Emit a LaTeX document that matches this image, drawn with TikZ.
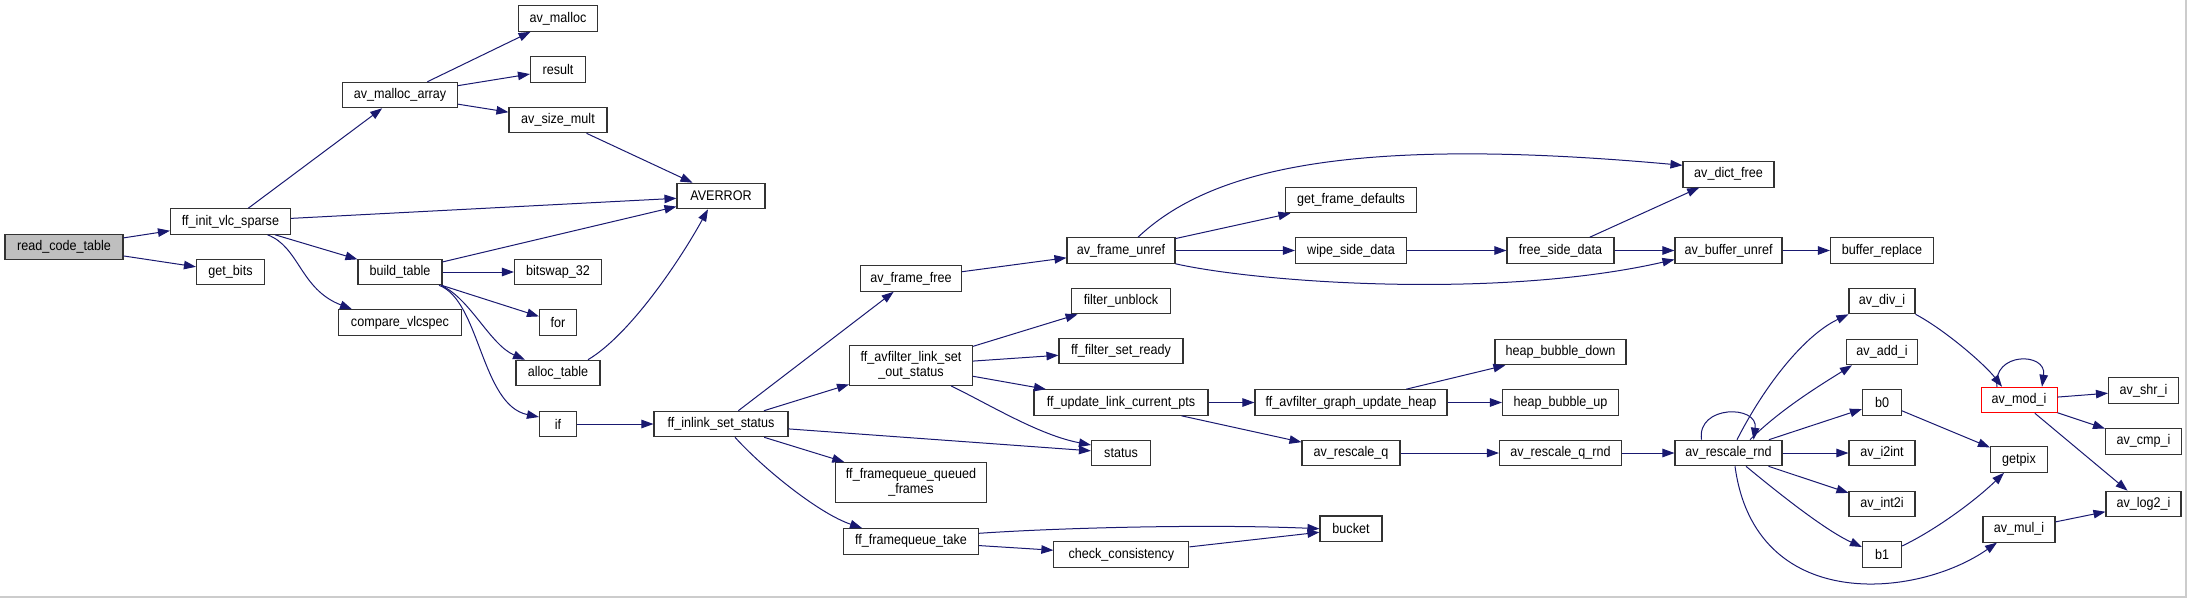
\documentclass[tikz,border=0pt]{standalone}
\usepackage{fontspec}
\setmainfont{Liberation Sans}[FakeStretch=0.9]
\usepackage{tikz}
\usetikzlibrary{arrows.meta}
\usepackage{xcolor}
\definecolor{EdgeBlue}{RGB}{25,25,112}
\definecolor{RootGray}{RGB}{191,191,191}

\begin{document}
\begin{tikzpicture}[x=1pt,y=-1pt,
  box/.style={draw=black!80,line width=1.1pt,fill=white,minimum height=25.5pt,
              inner sep=0pt,align=center,font=\fontsize{14}{15}\selectfont},
  root/.style={box,fill=RootGray},
  hot/.style={box,draw=red,line width=1pt},
  arr/.style={-{Triangle[length=12pt,width=8.5pt]},line width=1pt,EdgeBlue}
]
\useasboundingbox (0,0) rectangle (2187,598);
\draw[black!20,line width=1.5pt] (0,597.2) -- (2186.2,597.2) -- (2186.2,0);
\node[root,minimum width=118pt] (readcode) at (64,247) {read\_code\_table};
\node[box,minimum width=120pt] (initvlc) at (230.5,221.5) {ff\_init\_vlc\_sparse};
\node[box,minimum width=68pt] (getbits) at (230.5,272) {get\_bits};
\node[box,minimum width=115pt] (mallocarr) at (400,95) {av\_malloc\_array};
\node[box,minimum width=84pt] (buildtab) at (400,272) {build\_table};
\node[box,minimum width=123pt] (cmpvlc) at (400,322.5) {compare\_vlcspec};
\node[box,minimum width=79pt] (malloc) at (558,18.5) {av\_malloc};
\node[box,minimum width=55pt] (result) at (558,69.5) {result};
\node[box,minimum width=98pt] (sizemult) at (558,120) {av\_size\_mult};
\node[box,minimum width=87pt] (bitswap) at (558,272) {bitswap\_32};
\node[box,minimum width=37pt] (for) at (558,322.5) {for};
\node[box,minimum width=84pt] (alloctab) at (558,373) {alloc\_table};
\node[box,minimum width=37pt] (if) at (558,424) {if};
\node[box,minimum width=88pt] (averror) at (721,196) {AVERROR};
\node[box,minimum width=134pt] (inlink) at (721,424) {ff\_inlink\_set\_status};
\node[box,minimum width=101pt] (framefree) at (911,278.5) {av\_frame\_free};
\node[box,minimum width=123pt,minimum height=40pt] (setout) at (911,365.3) {ff\_avfilter\_link\_set\\\_out\_status};
\node[box,minimum width=151pt,minimum height=40pt] (queued) at (911,482.5) {ff\_framequeue\_queued\\\_frames};
\node[box,minimum width=135pt] (take) at (911,541.3) {ff\_framequeue\_take};
\node[box,minimum width=108pt] (unref) at (1121,250.5) {av\_frame\_unref};
\node[box,minimum width=99pt] (unblock) at (1121,301) {filter\_unblock};
\node[box,minimum width=124pt] (setready) at (1121,351) {ff\_filter\_set\_ready};
\node[box,minimum width=174pt] (updpts) at (1121,402.5) {ff\_update\_link\_current\_pts};
\node[box,minimum width=59pt] (status) at (1121,453) {status};
\node[box,minimum width=135pt] (checkcons) at (1121.4,554.5) {check\_consistency};
\node[box,minimum width=131pt] (getdef) at (1351,200) {get\_frame\_defaults};
\node[box,minimum width=111pt] (wipe) at (1351,250.5) {wipe\_side\_data};
\node[box,minimum width=192pt] (graphheap) at (1351,402.5) {ff\_avfilter\_graph\_update\_heap};
\node[box,minimum width=98pt] (rescaleq) at (1351,453) {av\_rescale\_q};
\node[box,minimum width=62pt] (bucket) at (1351,528.7) {bucket};
\node[box,minimum width=107pt] (freeside) at (1560.5,250.5) {free\_side\_data};
\node[box,minimum width=131pt] (bubdown) at (1560.5,352) {heap\_bubble\_down};
\node[box,minimum width=116pt] (bubup) at (1560.5,402.5) {heap\_bubble\_up};
\node[box,minimum width=122pt] (qrnd) at (1560.5,453) {av\_rescale\_q\_rnd};
\node[box,minimum width=91pt] (dictfree) at (1728.5,174.3) {av\_dict\_free};
\node[box,minimum width=107pt] (bufunref) at (1728.5,250.5) {av\_buffer\_unref};
\node[box,minimum width=107pt] (rnd) at (1728.5,453) {av\_rescale\_rnd};
\node[box,minimum width=103pt] (bufrepl) at (1882,250.5) {buffer\_replace};
\node[box,minimum width=66pt] (divi) at (1882,301) {av\_div\_i};
\node[box,minimum width=71pt] (addi) at (1882,352) {av\_add\_i};
\node[box,minimum width=39pt] (bzero) at (1882,402.5) {b0};
\node[box,minimum width=66pt] (itoint) at (1882,453) {av\_i2int};
\node[box,minimum width=66pt] (inttoi) at (1882,504) {av\_int2i};
\node[box,minimum width=39pt] (bone) at (1882,554.5) {b1};
\node[hot,minimum width=76pt] (modi) at (2019,400) {av\_mod\_i};
\node[box,minimum width=57pt] (getpix) at (2019,459.5) {getpix};
\node[box,minimum width=72pt] (muli) at (2019,529.3) {av\_mul\_i};
\node[box,minimum width=70pt] (shri) at (2143.5,390.5) {av\_shr\_i};
\node[box,minimum width=76pt] (cmpi) at (2143.5,441.3) {av\_cmp\_i};
\node[box,minimum width=75pt] (logi) at (2143.5,504) {av\_log2\_i};
\draw[arr] (readcode) -- (initvlc);
\draw[arr] (readcode) -- (getbits);
\draw[arr] (initvlc) -- (mallocarr);
\draw[arr] (initvlc) -- (averror);
\draw[arr] (initvlc) -- (buildtab);
\draw[arr] ([xshift=37pt]initvlc.south) .. controls +(32,12) and +(-52,-20) .. ([xshift=-48pt]cmpvlc.north);
\draw[arr] (mallocarr) -- (malloc);
\draw[arr] (mallocarr) -- (result);
\draw[arr] (mallocarr) -- (sizemult);
\draw[arr] (sizemult) -- (averror);
\draw[arr] (buildtab) -- (averror);
\draw[arr] (buildtab) -- (bitswap);
\draw[arr] (buildtab) -- (for);
\draw[arr] ([xshift=41pt]buildtab.south) .. controls +(29,13) and +(-35,-15) .. ([xshift=-33pt]alloctab.north);
\draw[arr] ([xshift=39pt]buildtab.south) .. controls +(41,15) and +(-58,-12) .. ([yshift=7pt]if.west);
\draw[arr] ([xshift=30pt]alloctab.north) .. controls +(42,-25) and +(-28,51) .. ([xshift=-13pt]averror.south);
\draw[arr] (if) -- (inlink);
\draw[arr] (inlink) -- (framefree);
\draw[arr] (inlink) -- (setout);
\draw[arr] (inlink) -- (status);
\draw[arr] (inlink) -- (queued);
\draw[arr] ([xshift=14pt]inlink.south) .. controls +(30,33) and +(-42,-14) .. ([xshift=-49pt]take.north);
\draw[arr] (framefree) -- (unref);
\draw[arr] ([xshift=17pt]unref.north) .. controls +(72,-68) and +(-332,-30) .. ([yshift=9pt]dictfree.west);
\draw[arr] (unref) -- (getdef);
\draw[arr] (unref) -- (wipe);
\draw[arr] (unref.south east) .. controls +(85,19) and +(-175,40) .. ([yshift=-9pt]bufunref.west);
\draw[arr] (wipe) -- (freeside);
\draw[arr] (freeside) -- (dictfree);
\draw[arr] (freeside) -- (bufunref);
\draw[arr] (bufunref) -- (bufrepl);
\draw[arr] (setout) -- (unblock);
\draw[arr] (setout) -- (setready);
\draw[arr] (setout) -- (updpts);
\draw[arr] ([xshift=40pt]setout.south) .. controls +(39,19) and +(-52,-10) .. ([yshift=8pt]status.west);
\draw[arr] (updpts) -- (graphheap);
\draw[arr] (updpts) -- (rescaleq);
\draw[arr] (graphheap) -- (bubdown);
\draw[arr] (graphheap) -- (bubup);
\draw[arr] (rescaleq) -- (qrnd);
\draw[arr] (qrnd) -- (rnd);
\draw[arr] ([xshift=-27pt]rnd.north) .. controls +(-5,-35) and +(5,-35) .. ([xshift=25pt]rnd.north);
\draw[arr] ([xshift=8.5pt]rnd.north) .. controls +(28,-55) and +(-44,21) .. (divi.south west);
\draw[arr] ([xshift=21.5pt]rnd.north) .. controls +(30,-30) and +(-32,20) .. ([xshift=6pt]addi.south west);
\draw[arr] (rnd) -- (bzero);
\draw[arr] (rnd) -- (itoint);
\draw[arr] (rnd) -- (inttoi);
\draw[arr] ([xshift=17.5pt]rnd.south) .. controls +(29,24) and +(-37.5,-17) .. ([yshift=7.5pt]bone.west);
\draw[arr] ([xshift=6.5pt]rnd.south) .. controls +(20,148) and +(-80,56) .. ([xshift=-22pt]muli.south);
\draw[arr] (divi.south east) .. controls +(30,16) and +(-17,-22) .. ([xshift=-17pt]modi.north);
\draw[arr] ([xshift=-22pt]modi.north) .. controls +(-5,-35) and +(5,-35) .. ([xshift=23pt]modi.north);
\draw[arr] (modi) -- (shri);
\draw[arr] (modi) -- (cmpi);
\draw[arr] (modi) -- (logi);
\draw[arr] (bzero) -- (getpix);
\draw[arr] ([yshift=8.5pt]bone.east) .. controls +(33.5,-16) and +(-29,28) .. ([xshift=-15pt]getpix.south);
\draw[arr] (muli) -- (logi);
\draw[arr] ([yshift=8pt]take.east) .. controls +(72,-5) and +(-120,-5) .. (bucket.west);
\draw[arr] (take) -- (checkcons);
\draw[arr] (checkcons) -- (bucket);
\end{tikzpicture}
\end{document}
